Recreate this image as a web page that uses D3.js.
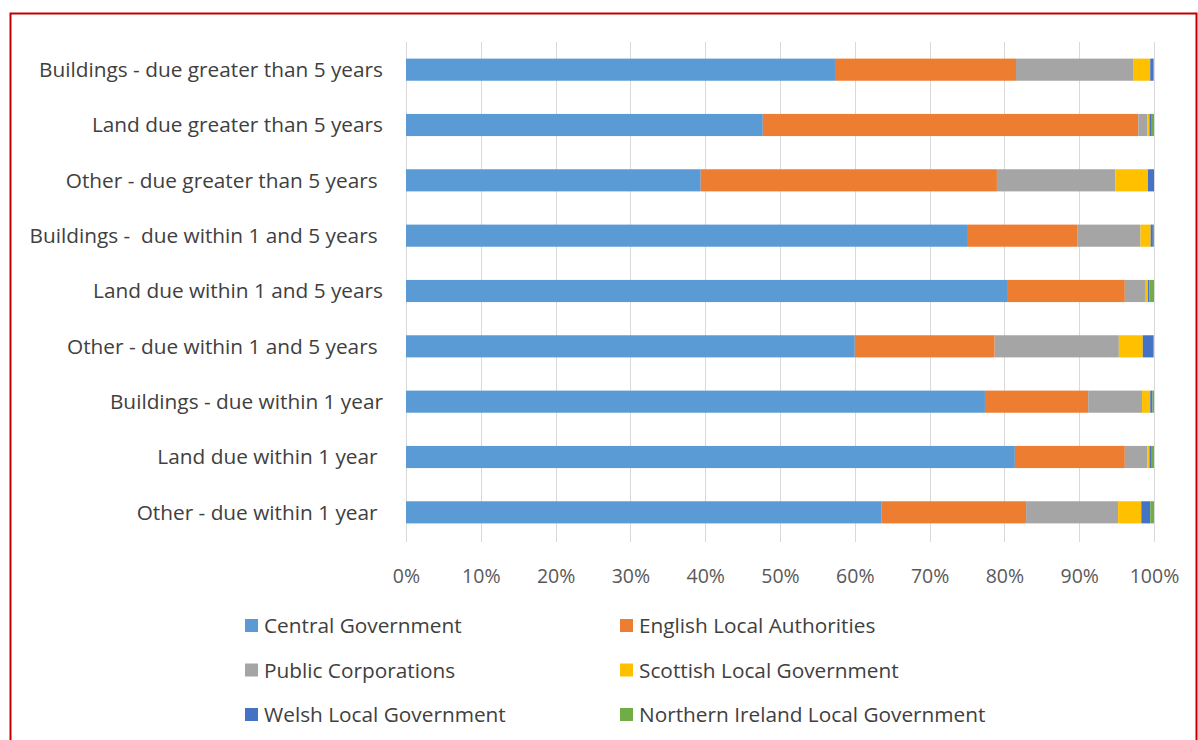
<!DOCTYPE html>
<html>
<head>
<meta charset="utf-8">
<script src="https://cdn.jsdelivr.net/npm/d3@7"></script>
<style>
  body { margin: 0; background: #fff; }
  svg { display: block; }
  text { font-family: "Open Sans", "Liberation Sans", sans-serif; }
</style>
</head>
<body>
<div id="chart"></div>
<script>
// categories top to bottom
var categories = [
  "Buildings - due greater than 5 years",
  "Land due greater than 5 years",
  "Other - due greater than 5 years ",
  "Buildings -  due within 1 and 5 years ",
  "Land due within 1 and 5 years",
  "Other - due within 1 and 5 years ",
  "Buildings - due within 1 year",
  "Land due within 1 year ",
  "Other - due within 1 year "
];

var seriesNames = ["Central Government", "English Local Authorities", "Public Corporations",
  "Scottish Local Government", "Welsh Local Government", "Northern Ireland Local Government"];
var colors = ["#5B9BD5", "#ED7D31", "#A5A5A5", "#FFC000", "#4472C4", "#70AD47"];

// percentage shares, one array per series (same order as categories)
var central   = [57.35, 47.7, 39.4, 75.0, 80.35, 60.0, 77.4, 81.4, 63.6];
var english   = [24.2, 50.2, 39.6, 14.8, 15.75, 18.7, 13.8, 14.7, 19.3];
var publicCorp= [15.65, 1.2, 15.85, 8.4, 2.8, 16.6, 7.2, 3.0, 12.3];
var scottish  = [2.3, 0.3, 4.35, 1.35, 0.3, 3.2, 1.1, 0.3, 3.1];
var welsh     = [0.4, 0.3, 0.8, 0.3, 0.2, 1.4, 0.3, 0.3, 1.2];
var nireland  = [0.1, 0.3, 0.0, 0.15, 0.6, 0.1, 0.2, 0.3, 0.5];

var tickValues = [0, 0.1, 0.2, 0.3, 0.4, 0.5, 0.6, 0.7, 0.8, 0.9, 1];

var W = 1198, H = 740;
var margin = {top: 42, left: 406, right: 44, bottom: 198};
var width = W - margin.left - margin.right,
    height = H - margin.top - margin.bottom;

var svg = d3.select("#chart").append("svg")
    .attr("width", W)
    .attr("height", H);

// red frame
svg.append("rect")
    .attr("x", 10.5).attr("y", 13.5)
    .attr("width", W - 12).attr("height", H)
    .attr("fill", "none")
    .attr("stroke", "#C00000")
    .attr("stroke-width", 2);

var g = svg.append("g")
    .attr("transform", "translate(" + margin.left + "," + margin.top + ")");

// build rows
var allSeries = [central, english, publicCorp, scottish, welsh, nireland];
var data = categories.map(function(c, i) {
  var row = {cat: c};
  var tot = 0;
  allSeries.forEach(function(s) { tot += s[i]; });
  seriesNames.forEach(function(n, j) { row[n] = allSeries[j][i] / tot; });
  return row;
});

var x = d3.scaleLinear().domain([0, 1]).range([0, width]);
var y = d3.scaleBand().domain(categories).range([0, height - 2]).paddingInner(0.6).paddingOuter(0.3);

// gridlines
g.selectAll(".grid")
  .data(tickValues)
  .enter().append("line")
    .attr("x1", function(d) { return Math.round(x(d)) + 0.5; })
    .attr("x2", function(d) { return Math.round(x(d)) + 0.5; })
    .attr("y1", 0)
    .attr("y2", height)
    .attr("stroke", "#D9D9D9")
    .attr("stroke-width", 1);

var stack = d3.stack().keys(seriesNames)(data);

g.selectAll(".series")
  .data(stack)
  .enter().append("g")
    .attr("fill", function(d, i) { return colors[i]; })
  .selectAll("rect")
  .data(function(d) { return d; })
  .enter().append("rect")
    .attr("x", function(d) { return x(d[0]); })
    .attr("width", function(d) { return Math.max(0, x(d[1]) - x(d[0])); })
    .attr("y", function(d) { return y(d.data.cat); })
    .attr("height", y.bandwidth());

// category labels
g.selectAll(".cat")
  .data(categories)
  .enter().append("text")
    .attr("x", -23)
    .attr("y", function(d) { return y(d) + y.bandwidth() / 2; })
    .attr("dy", "0.35em")
    .attr("text-anchor", "end")
    .attr("fill", "#404040")
    .style("font-size", "20.8px")
    .style("white-space", "pre")
    .text(function(d) { return d; });

// x axis labels
var xAxis = d3.axisBottom(x).tickValues(tickValues).tickSize(0).tickPadding(29)
    .tickFormat(d3.format(".0%"));
var ax = g.append("g")
    .attr("transform", "translate(0," + (height - 2) + ")")
    .call(xAxis);
ax.select(".domain").remove();
ax.selectAll("text")
    .attr("fill", "#595959")
    .style("font-size", "19.5px")
    .style("font-family", "'Open Sans', 'Liberation Sans', sans-serif");

// legend
var legend = svg.append("g");
var item = legend.selectAll("g")
  .data(seriesNames)
  .enter().append("g")
    .attr("transform", function(d, i) {
      var col = i % 2, row = Math.floor(i / 2);
      return "translate(" + (col === 0 ? 245 : 620) + "," + (626 + row * 44.5) + ")";
    });
item.append("rect")
    .attr("x", 0).attr("y", -7)
    .attr("width", 13).attr("height", 13)
    .attr("fill", function(d, i) { return colors[i]; });
item.append("text")
    .attr("x", 19)
    .attr("dy", "0.35em")
    .attr("fill", "#404040")
    .style("font-size", "20.8px")
    .text(function(d) { return d; });
</script>
</body>
</html>
